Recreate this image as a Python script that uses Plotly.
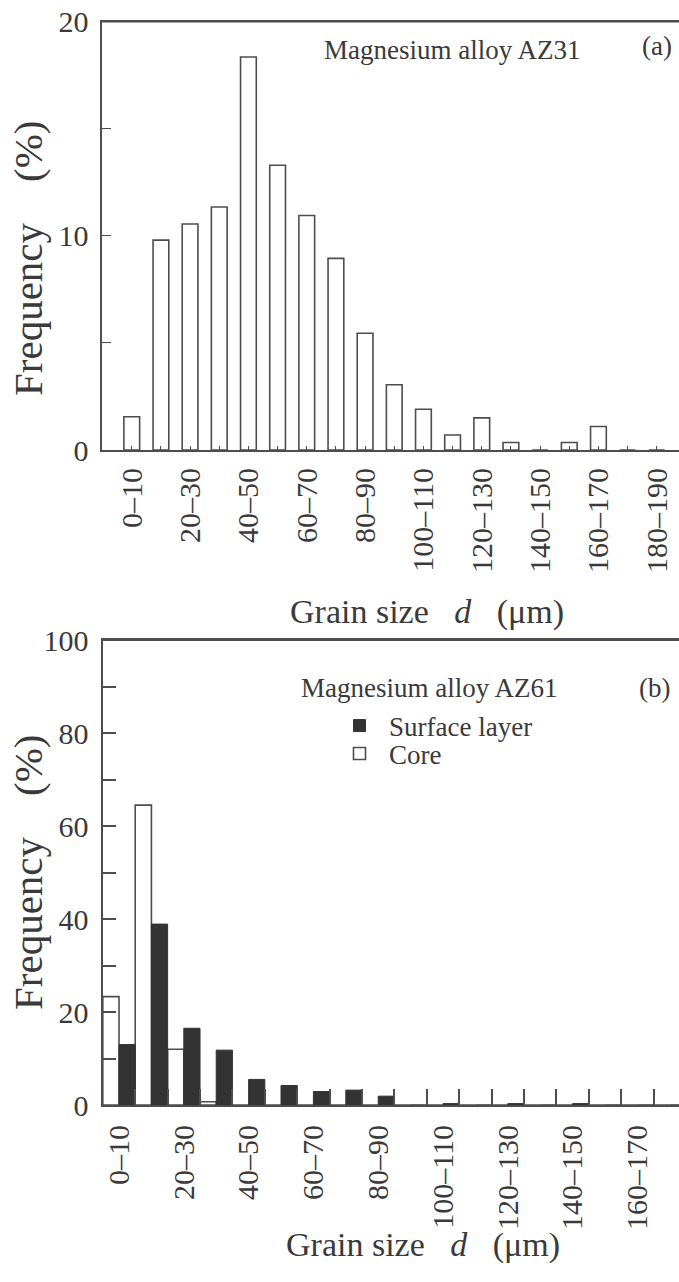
import plotly.graph_objects as go

# ---------------- data ----------------
top_bins = ["0–10", "10–20", "20–30", "30–40", "40–50", "50–60", "60–70", "70–80",
            "80–90", "90–100", "100–110", "110–120", "120–130", "130–140", "140–150",
            "150–160", "160–170", "170–180", "180–190"]
top_freq = [1.55, 9.8, 10.55, 11.35, 18.35, 13.3, 10.95, 8.95, 5.45, 3.05, 1.9,
            0.7, 1.5, 0.35, 0.0, 0.35, 1.1, 0.0, 0.0]

bot_bins = ["0–10", "10–20", "20–30", "30–40", "40–50", "50–60", "60–70", "70–80",
            "80–90", "90–100", "100–110", "110–120", "120–130", "130–140", "140–150",
            "150–160", "160–170", "170–180"]
surface = [13.0, 38.9, 16.5, 11.8, 5.5, 4.2, 2.9, 3.2, 1.9, 0.0, 0.3, 0.0, 0.3, 0.0,
           0.3, 0.0, 0.0, 0.0]
core = [23.3, 64.5, 12.0, 0.7, 0.0, 0.0, 0.0, 0.0, 0.0, 0.0, 0.0, 0.0, 0.0, 0.0,
        0.0, 0.0, 0.0, 0.0]

top_yticks = [0, 5, 10, 15, 20]
top_ylabels = ["0", "", "10", "", "20"]
bot_yticks = [0, 10, 20, 30, 40, 50, 60, 70, 80, 90, 100]
bot_ylabels = ["0", "", "20", "", "40", "", "60", "", "80", "", "100"]

# ---------------- layout helpers ----------------
W, H = 679, 1282
def px(x):
    return x / W
def py(y):
    return 1 - y / H

LINE = "#4d4d4d"
TXT = "#3a3a3a"
FONT = "Liberation Serif"

top_idx = list(range(len(top_bins)))
bot_idx = list(range(len(bot_bins)))

fig = go.Figure()

fig.add_trace(go.Bar(
    x=top_idx, y=top_freq, width=0.54, offset=-0.27,
    marker=dict(color="white", line=dict(color=LINE, width=1.6)),
    showlegend=False, xaxis="x", yaxis="y"))

fig.add_trace(go.Bar(
    x=bot_idx, y=core, width=0.5, offset=-0.5, name="Core",
    marker=dict(color="white", line=dict(color=LINE, width=1.6)),
    xaxis="x2", yaxis="y2", legend="legend2"))
fig.add_trace(go.Bar(
    x=bot_idx, y=surface, width=0.5, offset=0.0, name="Surface layer",
    marker=dict(color="#333333", line=dict(color="#333333", width=1)),
    xaxis="x2", yaxis="y2", legend="legend"))
# invisible trace carrying the bin-boundary tick axis
fig.add_trace(go.Scatter(x=[k + 0.5 for k in bot_idx[:-1]], y=[0] * (len(bot_idx) - 1),
                         mode="markers", marker=dict(opacity=0), hoverinfo="skip",
                         showlegend=False, xaxis="x3", yaxis="y2"))

axis_common = dict(showline=True, linecolor=LINE, linewidth=1.8, showgrid=False,
                   zeroline=False, tickcolor=LINE, automargin=False,
                   ticklabeloverflow="allow",
                   tickfont=dict(family=FONT, size=30, color=TXT))

x1_range = [-1.01, (679 - 131.7) / 29.17]
x2_range = [-0.51, (679 - 119.0) / 32.4]

fig.update_layout(
    width=W, height=H, autosize=False,
    margin=dict(l=0, r=0, t=0, b=0, autoexpand=False),
    paper_bgcolor="white", plot_bgcolor="white",
    barmode="overlay",
    font=dict(family=FONT, color=TXT),
    xaxis=dict(domain=[px(102.3), 1], range=x1_range, anchor="y",
               tickmode="array", tickvals=top_idx,
               ticktext=[b if i % 2 == 0 else "" for i, b in enumerate(top_bins)],
               ticks="inside", ticklen=4, tickwidth=1.4, tickangle=-90,
               mirror=True, ticklabelstandoff=4, **axis_common),
    yaxis=dict(domain=[py(450), py(21.7)], range=[0, 20], anchor="x",
               tickmode="array", tickvals=top_yticks, ticktext=top_ylabels,
               ticks="inside", ticklen=9, tickwidth=1.4, ticklabelstandoff=6,
               **axis_common),
    xaxis2=dict(domain=[px(102.5), 1], range=x2_range, anchor="y2",
                tickmode="array", tickvals=bot_idx[::2],
                ticktext=bot_bins[::2],
                ticks="", tickangle=-90, mirror=True, ticklabelstandoff=6,
                **axis_common),
    xaxis3=dict(overlaying="x2", anchor="y2", side="bottom", range=x2_range,
                tickmode="array", tickvals=[k + 0.5 for k in bot_idx[:-1]],
                ticks="inside", ticklen=16, tickwidth=1.8, tickcolor=LINE,
                showticklabels=False, showline=False, showgrid=False, zeroline=False,
                automargin=False),
    yaxis2=dict(domain=[py(1105), py(640)], range=[0, 100], anchor="x2",
                tickmode="array", tickvals=bot_yticks, ticktext=bot_ylabels,
                ticks="inside", ticklen=14, tickwidth=1.6, ticklabelstandoff=6,
                **axis_common),
    legend=dict(x=px(330), y=py(726), xanchor="left", yanchor="middle",
                bgcolor="rgba(0,0,0,0)", font=dict(family=FONT, size=27, color=TXT),
                itemwidth=49),
    legend2=dict(x=px(330), y=py(754), xanchor="left", yanchor="middle",
                 bgcolor="rgba(0,0,0,0)", font=dict(family=FONT, size=27, color=TXT),
                 itemwidth=49),
    # top frame lines of both panels
    shapes=[
        dict(type="line", xref="x domain", yref="y domain", x0=0, x1=1, y0=1, y1=1,
             line=dict(color=LINE, width=1.8)),
        dict(type="line", xref="x2 domain", yref="y2 domain", x0=0, x1=1, y0=1, y1=1,
             line=dict(color=LINE, width=1.8)),
    ],
)

nb = "\u00a0"
ann_font = dict(family=FONT, size=27, color=TXT)
title_font = dict(family=FONT, size=34, color=TXT)
ylab_font = dict(family=FONT, size=41, color=TXT)
annotations = [
    dict(text="Magnesium alloy AZ31", x=px(452), y=py(50), font=ann_font),
    dict(text="(a)", x=px(657), y=py(46), font=ann_font),
    dict(text="Magnesium alloy AZ61", x=px(429), y=py(688), font=ann_font),
    dict(text="(b)", x=px(654), y=py(688), font=ann_font),
    dict(text=f"Grain size{nb*3}<i>d</i>{nb*3}(μm)", x=px(427), y=py(612), font=title_font),
    dict(text=f"Grain size{nb*3}<i>d</i>{nb*3}(μm)", x=px(423), y=py(1245), font=title_font),
    dict(text=f"Frequency{nb*4}(%)", x=px(28), y=py(258), textangle=-90, font=ylab_font),
    dict(text=f"Frequency{nb*4}(%)", x=px(28), y=py(872), textangle=-90, font=ylab_font),
]
for a in annotations:
    a.update(xref="paper", yref="paper", showarrow=False, xanchor="center", yanchor="middle")
fig.update_layout(annotations=annotations)

# remove the default page margin so the 679x1282 figure fills the window exactly
fig.write_html("out.html",
               config={"displayModeBar": False},
               post_script="document.body.style.margin='0';"
                           "document.body.style.overflow='hidden';")
